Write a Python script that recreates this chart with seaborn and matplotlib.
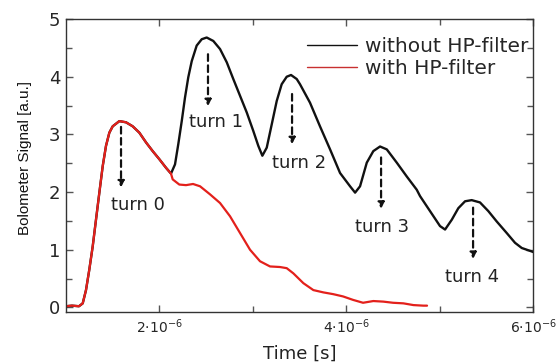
import numpy as np
import pandas as pd
import matplotlib
matplotlib.use('Agg')
import matplotlib.pyplot as plt
import seaborn as sns
from matplotlib.lines import Line2D
from matplotlib.ticker import MultipleLocator, FixedLocator

# time in µs, signal in a.u.
# both traces overlap up to the first minimum
t_common = [1.000, 1.064, 1.139, 1.179, 1.214, 1.249, 1.286, 1.321, 1.357, 1.393,
            1.428, 1.464, 1.500, 1.571, 1.642, 1.714, 1.785, 1.857, 1.928, 1.999,
            2.071, 2.124]
y_common = [0.02, 0.03, 0.02, 0.07, 0.30, 0.65, 1.06, 1.52, 1.99, 2.45,
            2.80, 3.03, 3.14, 3.23, 3.21, 3.14, 3.03, 2.86, 2.71, 2.57,
            2.42, 2.32]

t_black = [2.167, 2.202, 2.239, 2.274, 2.309, 2.346, 2.399, 2.453, 2.506, 2.577,
           2.649, 2.721, 2.791, 2.863, 2.935, 3.005, 3.059, 3.102, 3.149, 3.202,
           3.256, 3.309, 3.363, 3.409, 3.470, 3.505, 3.612, 3.719, 3.827, 3.934,
           4.041, 4.095, 4.148, 4.220, 4.290, 4.362, 4.434, 4.541, 4.648, 4.755,
           4.790, 4.897, 5.004, 5.058, 5.130, 5.200, 5.272, 5.343, 5.432, 5.521,
           5.611, 5.718, 5.807, 5.879, 5.986, 6.000]
y_black = [2.48, 2.83, 3.23, 3.64, 3.99, 4.27, 4.54, 4.65, 4.68, 4.62,
           4.48, 4.25, 3.96, 3.67, 3.38, 3.06, 2.80, 2.63, 2.77, 3.17,
           3.58, 3.87, 4.00, 4.03, 3.96, 3.87, 3.55, 3.14, 2.74, 2.33,
           2.10, 1.99, 2.10, 2.51, 2.71, 2.79, 2.74, 2.51, 2.27, 2.04,
           1.93, 1.67, 1.41, 1.35, 1.52, 1.72, 1.84, 1.86, 1.82, 1.67,
           1.49, 1.29, 1.12, 1.03, 0.97, 0.96]

t_red = [2.142, 2.213, 2.285, 2.360, 2.435, 2.542, 2.649, 2.756, 2.863, 2.970,
         3.077, 3.184, 3.291, 3.363, 3.434, 3.541, 3.648, 3.755, 3.859, 3.966,
         4.073, 4.180, 4.290, 4.397, 4.501, 4.612, 4.719, 4.826, 4.865]
y_red = [2.22, 2.13, 2.12, 2.14, 2.10, 1.96, 1.81, 1.58, 1.29, 1.00,
         0.80, 0.71, 0.70, 0.68, 0.59, 0.42, 0.30, 0.26, 0.23, 0.19,
         0.13, 0.08, 0.11, 0.10, 0.08, 0.07, 0.04, 0.03, 0.03]

turn_labels = ['turn 0', 'turn 1', 'turn 2', 'turn 3', 'turn 4']
turn_x = [1.589, 2.520, 3.420, 4.373, 5.358]
arrow_top = [3.13, 4.39, 3.70, 2.60, 1.73]
arrow_tip = [2.08, 3.49, 2.83, 1.71, 0.84]
label_x = [1.482, 2.317, 3.206, 4.094, 5.058]
label_y = [1.78, 3.21, 2.51, 1.40, 0.53]

xtick_vals = [2, 4, 6]
xtick_text = [r'$2{\cdot}10^{-6}$', r'$4{\cdot}10^{-6}$', r'$6{\cdot}10^{-6}$']

df_black = pd.DataFrame({'t': np.array(t_common + t_black) * 1e-6,
                         'y': y_common + y_black})
df_red = pd.DataFrame({'t': np.array(t_common + t_red) * 1e-6,
                       'y': y_common + y_red})

sns.set_style('ticks')
plt.rcParams['font.family'] = ['DejaVu Sans']
plt.rcParams['mathtext.fontset'] = 'dejavusans'

fig = plt.figure(figsize=(5.57, 3.63), dpi=100)
ax = fig.add_axes([0.1185, 0.1405, 0.8385, 0.807])

sns.lineplot(data=df_black, x='t', y='y', ax=ax, color='#111111', lw=1.7,
             sort=False, estimator=None)
sns.lineplot(data=df_red, x='t', y='y', ax=ax, color='#e3201b', lw=1.6,
             sort=False, estimator=None)

ax.set_xlim(1e-6, 6e-6)
ax.set_ylim(-0.08, 5.0)

# dashed arrows and labels for each turn
for lab, x, y0, y1, lx, ly in zip(turn_labels, turn_x, arrow_top, arrow_tip,
                                  label_x, label_y):
    ax.annotate('', xy=(x * 1e-6, y1), xytext=(x * 1e-6, y0),
                arrowprops=dict(arrowstyle='-|>', color='#111111', lw=1.6,
                                linestyle=(0, (3, 2)), mutation_scale=9,
                                shrinkA=0, shrinkB=0))
    ax.text(lx * 1e-6, ly, lab, fontsize=13, color='#222222',
            ha='left', va='center')

ax.xaxis.set_major_locator(FixedLocator([v * 1e-6 for v in xtick_vals]))
ax.set_xticklabels(xtick_text, fontsize=10)
ax.xaxis.set_minor_locator(FixedLocator([3e-6, 5e-6]))
ax.yaxis.set_major_locator(MultipleLocator(1))
ax.yaxis.set_minor_locator(MultipleLocator(0.5))
ax.tick_params(axis='y', labelsize=13)
ax.tick_params(which='both', direction='in', top=True, right=True,
               color='#555555', width=1, pad=4)
ax.tick_params(which='major', length=5)
ax.tick_params(which='minor', length=4)
for s in ax.spines.values():
    s.set_color('#333333')
    s.set_linewidth(1)

ax.set_xlabel('Time [s]', fontsize=13, color='#222222', labelpad=6)
ax.set_ylabel('Bolometer Signal [a.u.]', fontsize=11, color='#111111',
              family=['Liberation Sans', 'DejaVu Sans'])
ax.yaxis.set_label_coords(-0.072, 0.526)

handles = [Line2D([], [], color='#111111', lw=1.0),
           Line2D([], [], color='#c83030', lw=1.0)]
fig.legend(handles, ['without HP-filter', 'with HP-filter'], loc='upper left',
           bbox_to_anchor=(0.551, 0.898), frameon=False, fontsize=14.5,
           handlelength=2.5, handletextpad=0.4, labelspacing=0.15,
           borderpad=0, borderaxespad=0)

fig.savefig('out.png', dpi=100)
